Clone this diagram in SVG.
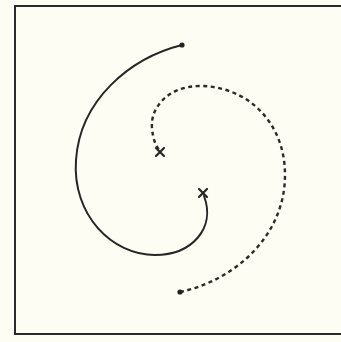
<svg xmlns="http://www.w3.org/2000/svg" width="341" height="342" viewBox="0 0 341 342">
<style>
.frame{fill:none;stroke:#2b2b2b;stroke-width:2}
.solid{fill:none;stroke:#262626;stroke-width:2;stroke-linecap:round}
.dashed{fill:none;stroke:#2a2a2a;stroke-width:2.4;stroke-dasharray:4 3.5}
.dot{fill:#222}
.x{stroke:#262626;stroke-width:2.2;stroke-linecap:round}
</style>
<rect width="341" height="342" fill="#fdfdf3"/>
<rect class="frame" x="15" y="6" width="360" height="328"/>
<g id="connectors">
<g id="solid-spiral">
<path class="solid" d="M182,45 C130,58 80,100 76,160 C72,215 112,255 155,255 C192,255 216,228 204,196"/>
<circle class="dot" cx="182" cy="45" r="2.6"/>
<path class="x" d="M199,189 L207,197 M207,189 L199,197"/>
</g>
<g id="dashed-spiral">
<path class="dashed" d="M180,292 C236,280 285,235 285,175 C285,120 245,86 200,86 C168,86 150,108 152,128 C153,140 156,146 160,151"/>
<circle class="dot" cx="180" cy="292" r="2.6"/>
<path class="x" d="M156,148 L164,156 M164,148 L156,156"/>
</g>
</g>
</svg>
